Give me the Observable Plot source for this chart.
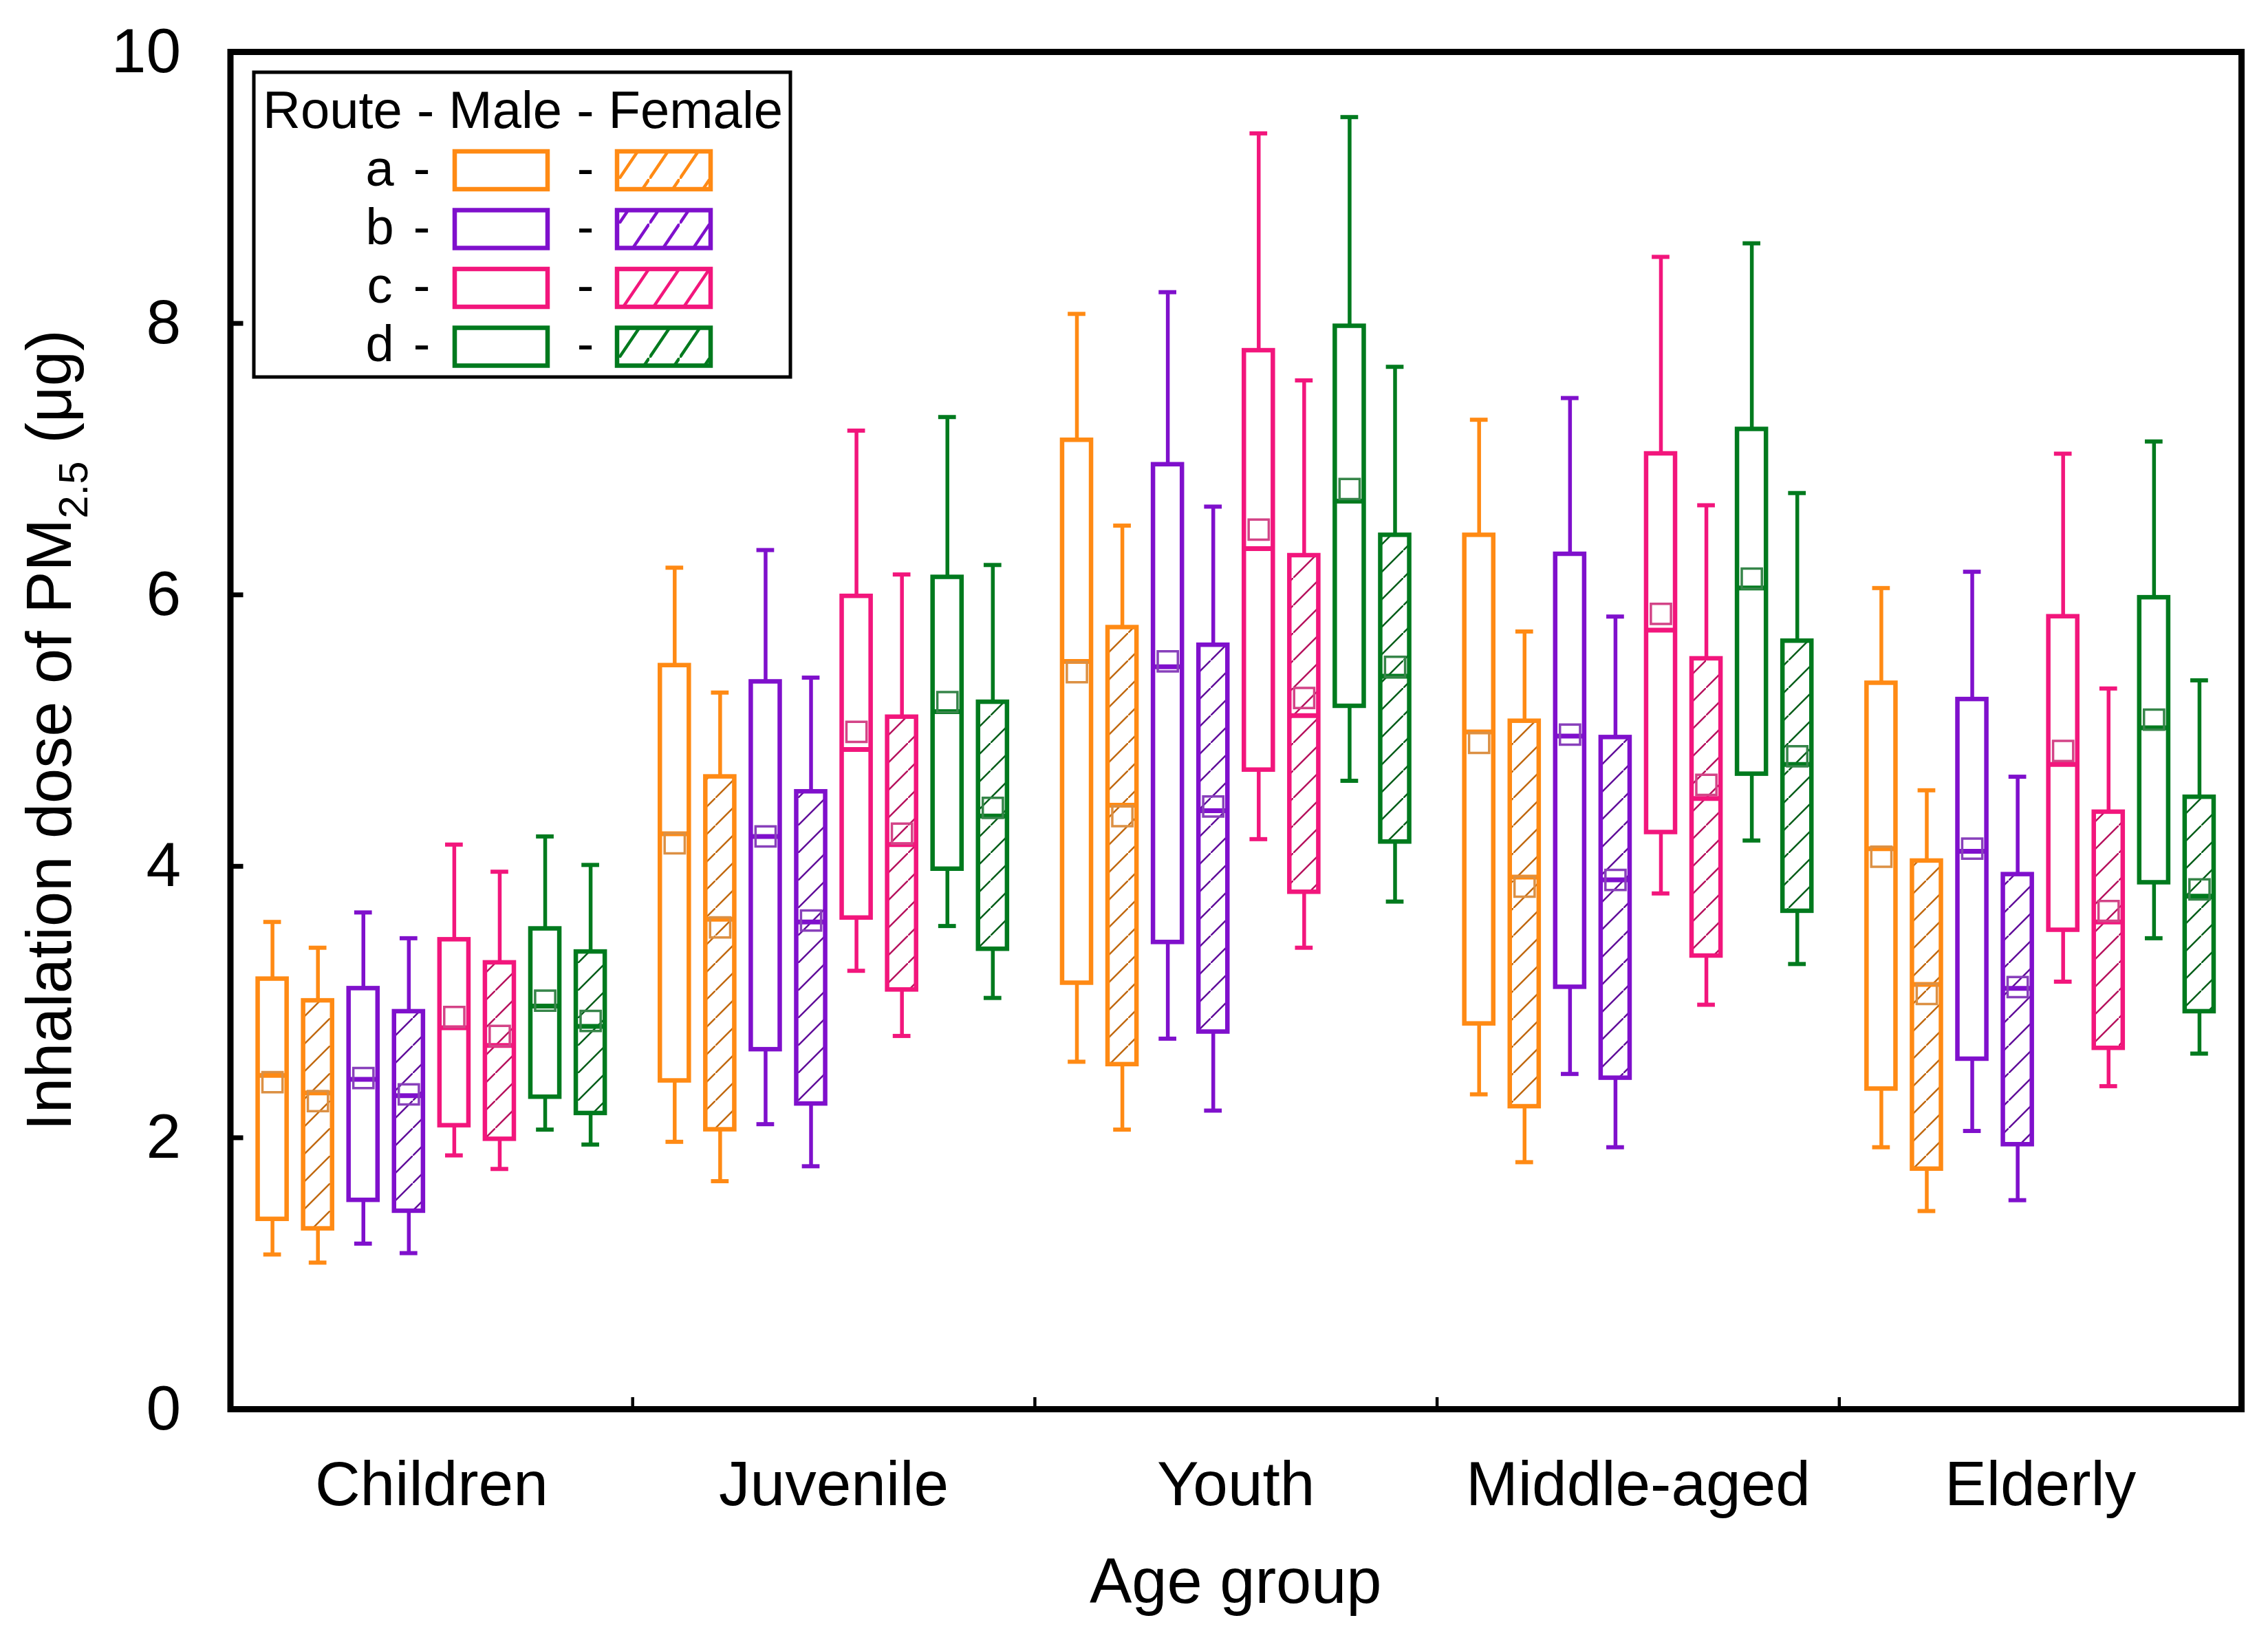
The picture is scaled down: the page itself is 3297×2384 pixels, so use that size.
<!DOCTYPE html>
<html>
<head>
<meta charset="utf-8">
<script src="https://cdn.jsdelivr.net/npm/d3@7"></script>
<script src="https://cdn.jsdelivr.net/npm/@observablehq/plot@0.6"></script>
<style>
  html, body { margin: 0; padding: 0; background: #fff; }
  #chart svg { display: block; }
</style>
</head>
<body>
<div id="chart"></div>
<script>
// ---------- data ----------
const groups = ["Children", "Juvenile", "Youth", "Middle-aged", "Elderly"];
const routes = ["a", "b", "c", "d"];
const sexes = ["Male", "Female"];
const routeColors = ["#FF8A14", "#7F10CC", "#F2167C", "#007A1E"];
const yTicks = [0, 2, 4, 6, 8, 10];

// order inside each group: aM, aF, bM, bF, cM, cF, dM, dF
const whiskerHigh = [
  [3.59, 3.40, 3.66, 3.47, 4.16, 3.96, 4.22, 4.01],
  [6.20, 5.28, 6.33, 5.39, 7.21, 6.15, 7.31, 6.22],
  [8.07, 6.51, 8.23, 6.65, 9.40, 7.58, 9.52, 7.68],
  [7.29, 5.73, 7.45, 5.84, 8.49, 6.66, 8.59, 6.75],
  [6.05, 4.56, 6.17, 4.66, 7.04, 5.31, 7.13, 5.37]
];
const q3 = [
  [3.17, 3.01, 3.10, 2.93, 3.46, 3.29, 3.54, 3.37],
  [5.48, 4.66, 5.36, 4.55, 5.99, 5.10, 6.13, 5.21],
  [7.14, 5.76, 6.96, 5.63, 7.80, 6.29, 7.98, 6.44],
  [6.44, 5.07, 6.30, 4.95, 7.04, 5.53, 7.22, 5.66],
  [5.35, 4.04, 5.23, 3.94, 5.84, 4.40, 5.98, 4.51]
];
const median = [
  [2.46, 2.33, 2.43, 2.31, 2.81, 2.68, 2.97, 2.82],
  [4.24, 3.61, 4.22, 3.59, 4.86, 4.16, 5.14, 4.37],
  [5.51, 4.45, 5.47, 4.41, 6.34, 5.11, 6.69, 5.40],
  [4.99, 3.92, 4.96, 3.90, 5.74, 4.50, 6.05, 4.75],
  [4.13, 3.13, 4.11, 3.10, 4.75, 3.59, 5.02, 3.78]
];
const mean = [
  [2.41, 2.27, 2.44, 2.32, 2.89, 2.75, 3.01, 2.86],
  [4.17, 3.55, 4.22, 3.60, 4.99, 4.24, 5.21, 4.43],
  [5.43, 4.37, 5.51, 4.44, 6.48, 5.24, 6.78, 5.47],
  [4.91, 3.85, 4.97, 3.90, 5.86, 4.60, 6.12, 4.81],
  [4.07, 3.06, 4.13, 3.11, 4.85, 3.67, 5.08, 3.83]
];
const q1 = [
  [1.40, 1.33, 1.54, 1.46, 2.09, 1.99, 2.30, 2.18],
  [2.42, 2.06, 2.65, 2.25, 3.62, 3.09, 3.98, 3.39],
  [3.14, 2.54, 3.44, 2.78, 4.71, 3.81, 5.18, 4.18],
  [2.84, 2.23, 3.11, 2.44, 4.25, 3.34, 4.68, 3.67],
  [2.36, 1.77, 2.58, 1.95, 3.53, 2.66, 3.88, 2.93]
];
const whiskerLow = [
  [1.14, 1.08, 1.22, 1.15, 1.87, 1.77, 2.06, 1.95],
  [1.97, 1.68, 2.10, 1.79, 3.23, 2.75, 3.56, 3.03],
  [2.56, 2.06, 2.73, 2.20, 4.20, 3.40, 4.63, 3.74],
  [2.32, 1.82, 2.47, 1.93, 3.80, 2.98, 4.19, 3.28],
  [1.93, 1.46, 2.05, 1.54, 3.15, 2.38, 3.47, 2.62]
];

// ---------- table ----------
const rows = [];
groups.forEach((g, gi) => routes.forEach((r, ri) => sexes.forEach((s, si) => {
  const k = ri * 2 + si;
  rows.push({
    group: g, gi, route: r, ri, sex: s, si, k,
    low: whiskerLow[gi][k], q1: q1[gi][k], median: median[gi][k],
    mean: mean[gi][k], q3: q3[gi][k], high: whiskerHigh[gi][k]
  });
})));

const SPACING = 0.113, HALF = 0.036, CAP = 0.022;
const pos = d => d.gi + (d.k - 3.5) * SPACING;
const col = d => routeColors[d.ri];
const meanCol = d => d3.interpolateRgb(routeColors[d.ri], "#9a9a9a")(0.35);

const W = 3297, H = 2384;
const mL = 334.5, mR = 39, mT = 75, mB = 336;
const frameW = W - mL - mR, frameH = H - mT - mB;
const font = "'Liberation Sans', Arial, Helvetica, sans-serif";

const plot = Plot.plot({
  width: W, height: H,
  marginLeft: mL, marginRight: mR, marginTop: mT, marginBottom: mB,
  style: { fontFamily: font, fontSize: "91px", color: "#000", background: "#fff" },
  x: { domain: [-0.5, 4.5], ticks: [0, 1, 2, 3, 4], tickFormat: i => groups[i], tickSize: 0, tickPadding: 75, label: null },
  y: { domain: [0, 10], ticks: yTicks, tickSize: 0, tickPadding: 72, label: null },
  color: { type: "identity" },
  marks: [
    // whiskers
    Plot.ruleX(rows, { x: pos, y1: "q3", y2: "high", stroke: col, strokeWidth: 5.5 }),
    Plot.ruleX(rows, { x: pos, y1: "low", y2: "q1", stroke: col, strokeWidth: 5.5 }),
    // caps
    Plot.ruleY(rows, { y: "high", x1: d => pos(d) - CAP, x2: d => pos(d) + CAP, stroke: col, strokeWidth: 6 }),
    Plot.ruleY(rows, { y: "low", x1: d => pos(d) - CAP, x2: d => pos(d) + CAP, stroke: col, strokeWidth: 6 }),
    // boxes
    Plot.rect(rows, {
      x1: d => pos(d) - HALF, x2: d => pos(d) + HALF, y1: "q1", y2: "q3",
      fill: d => d.si ? `url(#hatch-${d.route})` : "#ffffff",
      stroke: col, strokeWidth: 6.5
    }),
    // medians
    Plot.ruleY(rows, { y: "median", x1: d => pos(d) - HALF, x2: d => pos(d) + HALF, stroke: col, strokeWidth: 7 }),
    // means
    Plot.dot(rows, { x: pos, y: "mean", symbol: "square", r: 16.5, fill: "none", stroke: meanCol, strokeWidth: 3.5 }),
    // inward ticks
    Plot.ruleY(yTicks, { stroke: "#000", strokeWidth: 7, insetRight: frameW - 19 }),
    Plot.ruleX([0.5, 1.5, 2.5, 3.5], { stroke: "#000", strokeWidth: 4.5, insetTop: frameH - 17 }),
    Plot.frame({ stroke: "#000", strokeWidth: 9 })
  ]
});

document.getElementById("chart").appendChild(plot);

// ---------- patterns, labels, legend ----------
const svg = d3.select(plot);
const defs = svg.insert("defs", ":first-child");
routes.forEach((r, ri) => {
  const p = defs.append("pattern").attr("id", `hatch-${r}`)
    .attr("patternUnits", "userSpaceOnUse").attr("width", 40).attr("height", 40);
  p.append("rect").attr("width", 40).attr("height", 40).attr("fill", "#fff");
  p.append("path").attr("d", "M-4,44 L44,-4")
    .attr("stroke", d3.color(routeColors[ri]).darker(0.8).formatHex())
    .attr("stroke-width", 2.5).attr("fill", "none");
  const q = defs.append("pattern").attr("id", `leg-hatch-${r}`)
    .attr("patternUnits", "userSpaceOnUse").attr("width", 44).attr("height", 65)
    .attr("patternTransform", "translate(900,0)");
  q.append("rect").attr("width", 44).attr("height", 65).attr("fill", "#fff");
  q.append("path").attr("d", "M-3,69.4 L47,-4.4")
    .attr("stroke", routeColors[ri]).attr("stroke-width", 4.5).attr("fill", "none");
});

// y-axis label with subscript
const yl = svg.append("text")
  .attr("transform", `translate(103,${mT + frameH / 2}) rotate(-90)`)
  .attr("text-anchor", "middle")
  .attr("font-family", font).attr("font-size", 92).attr("fill", "#000");
yl.append("tspan").text("Inhalation dose of PM");
yl.append("tspan").attr("font-size", 60).attr("dy", 24).text("2.5");
yl.append("tspan").attr("dy", -24).text(" (μg)");

// x-axis label
svg.append("text")
  .attr("x", mL + frameW / 2).attr("y", 2330)
  .attr("text-anchor", "middle")
  .attr("font-family", font).attr("font-size", 92).attr("fill", "#000")
  .text("Age group");

// legend
const lg = svg.append("g").attr("font-family", font).attr("fill", "#000")
  .attr("text-anchor", "start");
lg.append("rect").attr("x", 369).attr("y", 105).attr("width", 780).attr("height", 443)
  .attr("fill", "#fff").attr("stroke", "#000").attr("stroke-width", 5);
lg.append("text").attr("x", 382).attr("y", 186).attr("font-size", 76)
  .attr("text-anchor", "start").text("Route - Male - Female");
routes.forEach((r, ri) => {
  const base = 270 + 85 * ri;
  const top = 220 + 85.5 * ri;
  lg.append("text").attr("x", 552).attr("y", base).attr("font-size", 74).attr("text-anchor", "middle").text(r);
  lg.append("text").attr("x", 613).attr("y", base).attr("font-size", 74).attr("text-anchor", "middle").text("-");
  lg.append("rect").attr("x", 661).attr("y", top).attr("width", 135).attr("height", 55)
    .attr("fill", "#fff").attr("stroke", routeColors[ri]).attr("stroke-width", 6.5);
  lg.append("text").attr("x", 851).attr("y", base).attr("font-size", 74).attr("text-anchor", "middle").text("-");
  lg.append("rect").attr("x", 897).attr("y", top).attr("width", 136).attr("height", 55)
    .attr("fill", `url(#leg-hatch-${r})`).attr("stroke", routeColors[ri]).attr("stroke-width", 6.5);
});
</script>
</body>
</html>
